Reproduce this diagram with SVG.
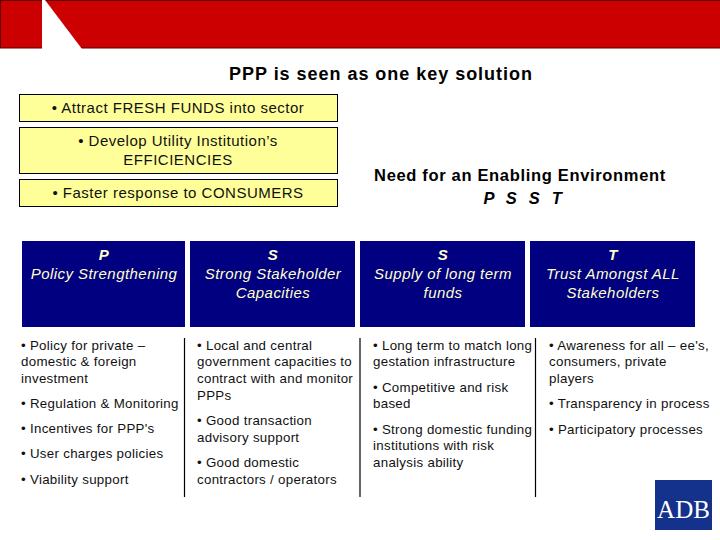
<svg xmlns="http://www.w3.org/2000/svg" width="720" height="540" viewBox="0 0 720 540">
<style>
text{font-family:"Liberation Sans",Arial,sans-serif;fill:#111}
.title{font-size:18px;font-weight:bold;text-anchor:middle;fill:#000;letter-spacing:.97px}
.need{font-size:16.5px;font-weight:bold;text-anchor:middle;fill:#000;letter-spacing:.67px}
.psst{font-style:italic;word-spacing:6px}
.y{fill:#ffff99;stroke:#000;stroke-width:1}
.yt{font-size:15px;text-anchor:middle;letter-spacing:.5px}
.b{fill:#000080}
.bt{font-size:15px;font-style:italic;text-anchor:middle;fill:#ffffcc;letter-spacing:.45px}
.bh{font-weight:bold}
.body{font-size:13.3px;letter-spacing:.3px}
.rule{stroke:#000;stroke-width:1.2;fill:none}
</style>
<rect width="720" height="540" fill="#fff"/>
<g id="banner">
<rect x="0" y="0" width="720" height="48" fill="#cc0000"/>
<path d="M0 .5H720M0 48H720" stroke="#5a0000" stroke-width="1.2" fill="none"/>
<path d="M.5 0V48" stroke="#5a0000" fill="none"/>
<polygon points="42,0 45,0 82,49 42,49" fill="#fff"/>
</g>
<text class="title" x="381" y="80">PPP is seen as one key solution</text>
<g id="box-funds"><rect class="y" x="19.5" y="94.5" width="318" height="27"/><text class="yt" x="178" y="113">• Attract FRESH FUNDS into sector</text></g>
<g id="box-efficiencies"><rect class="y" x="19.5" y="127.5" width="318" height="46"/><text class="yt" x="178" y="146">• Develop Utility Institution’s</text><text class="yt" x="178" y="165">EFFICIENCIES</text></g>
<g id="box-consumers"><rect class="y" x="19.5" y="179.5" width="318" height="27"/><text class="yt" x="178" y="198">• Faster response to CONSUMERS</text></g>
<g id="need"><text class="need" x="520" y="181">Need for an Enabling Environment</text><text class="need psst" x="523" y="204">P S S T</text></g>
<g id="head-p"><rect class="b" x="22" y="241" width="163" height="86"/><text class="bt bh" x="104" y="260">P</text><text class="bt" x="104" y="279">Policy Strengthening</text></g>
<g id="head-s1"><rect class="b" x="190" y="241" width="165" height="86"/><text class="bt bh" x="273" y="260">S</text><text class="bt" x="273" y="279">Strong Stakeholder</text><text class="bt" x="273" y="298">Capacities</text></g>
<g id="head-s2"><rect class="b" x="360" y="241" width="165" height="86"/><text class="bt bh" x="443" y="260">S</text><text class="bt" x="443" y="279">Supply of long term</text><text class="bt" x="443" y="298">funds</text></g>
<g id="head-t"><rect class="b" x="530" y="241" width="165" height="86"/><text class="bt bh" x="613" y="260">T</text><text class="bt" x="613" y="279">Trust Amongst ALL</text><text class="bt" x="613" y="298">Stakeholders</text></g>
<g id="connectors"><path class="rule" d="M184.500 338V497M360 338V497M535.500 338V497"/></g>
<g id="col-p">
<text class="body" x="21" y="350">• Policy for private –</text>
<text class="body" x="21" y="366">domestic &amp; foreign</text>
<text class="body" x="21" y="383">investment</text>
<text class="body" x="21" y="408">• Regulation &amp; Monitoring</text>
<text class="body" x="21" y="433">• Incentives for PPP's</text>
<text class="body" x="21" y="458">• User charges policies</text>
<text class="body" x="21" y="484">• Viability support</text>
</g>
<g id="col-s1">
<text class="body" x="197" y="350">• Local and central</text>
<text class="body" x="197" y="366">government capacities to</text>
<text class="body" x="197" y="383">contract with and monitor</text>
<text class="body" x="197" y="400">PPPs</text>
<text class="body" x="197" y="425">• Good transaction</text>
<text class="body" x="197" y="442">advisory support</text>
<text class="body" x="197" y="467">• Good domestic</text>
<text class="body" x="197" y="484">contractors / operators</text>
</g>
<g id="col-s2">
<text class="body" x="373" y="350">• Long term to match long</text>
<text class="body" x="373" y="366">gestation infrastructure</text>
<text class="body" x="373" y="392">• Competitive and risk</text>
<text class="body" x="373" y="408">based</text>
<text class="body" x="373" y="434">• Strong domestic funding</text>
<text class="body" x="373" y="450">institutions with risk</text>
<text class="body" x="373" y="467">analysis ability</text>
</g>
<g id="col-t">
<text class="body" x="549" y="350">• Awareness for all – ee's,</text>
<text class="body" x="549" y="366">consumers, private</text>
<text class="body" x="549" y="383">players</text>
<text class="body" x="549" y="408">• Transparency in process</text>
<text class="body" x="549" y="434">• Participatory processes</text>
</g>
<g id="logo"><rect x="655" y="480" width="57" height="50" fill="#14328c"/><text x="683.500" y="518" text-anchor="middle" font-size="25" style="font-family:'Liberation Serif',serif;fill:#fff">ADB</text></g>
</svg>
